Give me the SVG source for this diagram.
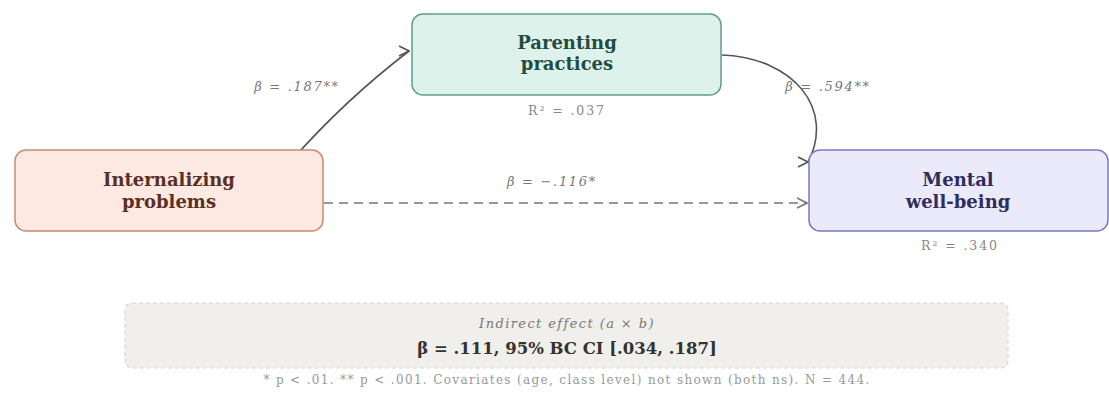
<svg xmlns="http://www.w3.org/2000/svg" width="1109" height="409" viewBox="0 0 1109 409">
<defs>
<style>
.title{font-family:"DejaVu Serif",serif;font-weight:bold;font-size:18px;text-anchor:middle}
.r2{font-family:"DejaVu Serif",serif;font-size:12.5px;letter-spacing:1.9px;fill:#888;text-anchor:middle}
.beta{font-family:"DejaVu Serif",serif;font-style:italic;font-size:13px;letter-spacing:1.7px;fill:#777;text-anchor:middle}
.conn{fill:none;stroke:#555;stroke-width:1.6}
.dash{fill:none;stroke:#777;stroke-width:1.6;stroke-dasharray:9 6}
</style>
<marker id="chev" viewBox="0 0 12 12" refX="11" refY="6" markerWidth="12" markerHeight="12" markerUnits="userSpaceOnUse" orient="0">
<path d="M1,1 L11,6 L1,11" fill="none" stroke="#555" stroke-width="1.6"/>
</marker>
<marker id="chevd" viewBox="0 0 12 12" refX="11" refY="6" markerWidth="12" markerHeight="12" markerUnits="userSpaceOnUse" orient="0">
<path d="M1,1 L11,6 L1,11" fill="none" stroke="#777" stroke-width="1.6"/>
</marker>
</defs>
<rect width="1109" height="409" fill="#ffffff"/>
<g id="connectors">
<path class="conn" d="M292,160 Q345,100 409,51" marker-end="url(#chev)"/>
<path class="conn" d="M722,55 C795,58 835,110 808,162" marker-end="url(#chev)"/>
<path class="dash" d="M324,203 L807,203" marker-end="url(#chevd)"/>
</g>
<g id="internalizing">
<rect x="15" y="150" width="308" height="81" rx="11" fill="#fbe9e2" stroke="#c98a70" stroke-width="1.5"/>
<text class="title" x="169" y="186" fill="#5b2f24">Internalizing</text>
<text class="title" x="169" y="208" fill="#5b2f24">problems</text>
</g>
<g id="parenting">
<rect x="412" y="14" width="309" height="81" rx="11" fill="#def2ec" stroke="#5f9f8b" stroke-width="1.5"/>
<text class="title" x="567" y="49" fill="#1f4d43">Parenting</text>
<text class="title" x="567" y="70" fill="#1f4d43">practices</text>
<text class="r2" x="567" y="115">R² = .037</text>
</g>
<g id="wellbeing">
<rect x="809" y="150" width="299" height="81" rx="11" fill="#ebeafb" stroke="#7c78c2" stroke-width="1.5"/>
<text class="title" x="958" y="186" fill="#2f2d5c">Mental</text>
<text class="title" x="958" y="208" fill="#2f2d5c">well-being</text>
<text class="r2" x="960" y="250">R² = .340</text>
</g>
<g id="labels">
<text class="beta" x="297" y="91">β = .187**</text>
<text class="beta" x="828" y="91">β = .594**</text>
<text class="beta" x="552" y="186">β = −.116*</text>
</g>
<g id="indirect">
<rect x="125" y="303" width="883" height="65" rx="7" fill="#f1efeb" stroke="#d9d7d2" stroke-width="1.2" stroke-dasharray="4 3"/>
<text x="567" y="328" font-family="DejaVu Serif, serif" font-style="italic" font-size="13" letter-spacing="1.4" fill="#777" text-anchor="middle">Indirect effect (a × b)</text>
<text x="567" y="354" font-family="DejaVu Serif, serif" font-weight="bold" font-size="16.5" fill="#333" text-anchor="middle">β = .111, 95% BC CI [.034, .187]</text>
</g>
<text x="567" y="384" font-family="DejaVu Serif, serif" font-size="12" letter-spacing="1.35" fill="#999" text-anchor="middle">* p &lt; .01. ** p &lt; .001. Covariates (age, class level) not shown (both ns). N = 444.</text>
</svg>
